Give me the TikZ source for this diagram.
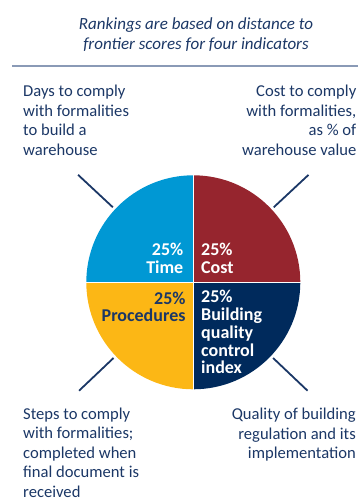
\documentclass[tikz,border=0pt]{standalone}
\usepackage{fontspec}
\setmainfont{Carlito}
\usepackage{xcolor}
\usepackage{tikz}
\definecolor{timeblue}{RGB}{0,152,212}
\definecolor{costred}{RGB}{150,37,46}
\definecolor{procyellow}{RGB}{252,183,21}
\definecolor{qualnavy}{RGB}{0,42,92}
\definecolor{inktext}{RGB}{27,55,102}
\definecolor{rulegray}{RGB}{138,154,182}

\tikzset{
  label/.style={inner sep=0, text=inktext, font=\fontsize{16.6}{19.6}\selectfont},
  share/.style={inner sep=0, font=\bfseries\fontsize{18}{17.8}\selectfont},
  tick/.style={draw=inktext, line width=1.8pt},
}

\begin{document}
\begin{tikzpicture}[x=1pt,y=1pt]

    \useasboundingbox (0,0) rectangle (358,498);

    % heading (base = last line)
    \node[inner sep=0, text=inktext, align=center, anchor=base,
          font=\itshape\fontsize{17}{20}\selectfont] (head) at (196,448.7)
          {Rankings are based on distance to\\frontier scores for four indicators};
    \coordinate (rulel) at (12,432);
    \coordinate (ruler) at (358,432);
    \draw[rulegray, line width=1.5pt] (rulel) -- (ruler);

    % pie
    \coordinate (c) at (193.3,215.7);
    \fill[timeblue]   (c) -- ++(90:107)  arc (90:180:107)  -- cycle;
    \fill[costred]    (c) -- ++(0:107)   arc (0:90:107)    -- cycle;
    \fill[procyellow] (c) -- ++(180:107) arc (180:270:107) -- cycle;
    \fill[qualnavy]   (c) -- ++(270:107) arc (270:360:107) -- cycle;
    \draw[white, line width=1.2pt] (c) -- ++(0,107.5);
    \draw[white, line width=1.2pt] (c) -- ++(0,-107.5);
    \draw[white, line width=1.2pt] (c) -- ++(107.5,0);
    \draw[white, line width=1.2pt] (c) -- ++(-107.5,0);

    \node[share, text=white, align=right, anchor=base east] (time) at (183.5,224.7) {25\%\\Time};
    \node[share, text=white, align=left, anchor=base west] (cost) at (201,224.7) {25\%\\Cost};
    \node[share, text=inktext, align=right, anchor=base east] (proc) at (185.7,176) {25\%\\Procedures};
    \node[share, text=white, align=left, anchor=base west] (qual) at (201,124)
          {25\%\\Building\\quality\\control\\index};

    % ticks
    \foreach \a/\n in {137/tl,43/tr,-136.5/bl,-43.5/br}  {   % one per quarter
      \path (c) ++(\a:110) coordinate (\n in) ++(\a:47.5) coordinate (\n out);
      \draw[tick] (\n in) -- (\n out);
    }

    % indicator texts
    \node[label, align=left, anchor=base west] (days) at (23,342.5)
          {Days to comply\\with formalities\\to build a\\warehouse};
    \node[label, align=right, anchor=base east] (money) at (356.5,342.5)
          {Cost to comply\\with formalities,\\as \% of\\warehouse value};
    \node[label, align=left, anchor=base west] (steps) at (23,0.5)
          {Steps to comply\\with formalities;\\completed when\\final document is\\received};
    \node[label, align=right, anchor=base east] (rules) at (356,39)
          {Quality of building\\regulation and its\\implementation};

  \end{tikzpicture}
\end{document}
